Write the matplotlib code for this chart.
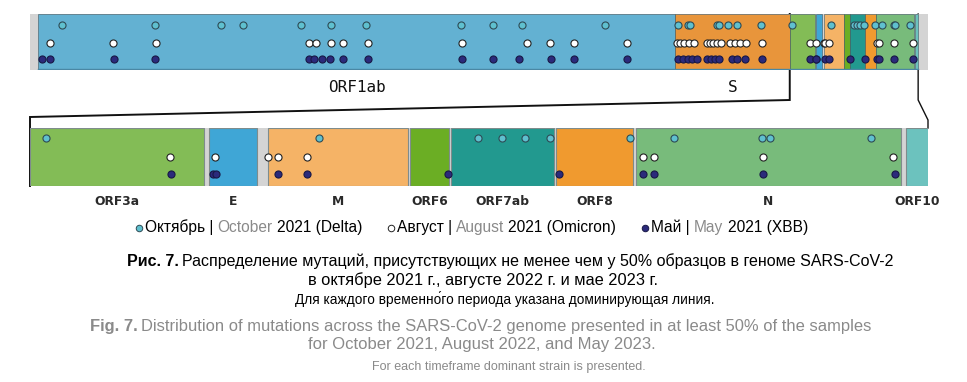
import matplotlib
matplotlib.use("Agg")
import matplotlib.pyplot as plt
from matplotlib.patches import Rectangle

# genome annotation (nt coordinates)
genes = ['ORF1ab', 'S', 'ORF3a', 'E', 'M', 'ORF6', 'ORF7ab', 'ORF8', 'N', 'ORF10']
gene_start = [266, 21563, 25393, 26245, 26523, 27202, 27394, 27894, 28274, 29558]
gene_end = [21555, 25384, 26220, 26472, 27191, 27387, 27887, 28259, 29533, 29674]
gene_color = ['#63b1d2', '#e8953b', '#83bc56', '#3fa6d6', '#f5b366', '#6bae24',
              '#22998f', '#f09a2f', '#78bb7b', '#6cc2be']
genome_len = 30003

# mutation positions per timeframe
oct_pos = [1069, 4176, 6382, 7117, 9054, 10057, 11226, 14400, 15470, 16438, 19212,
           21651, 21985, 22052, 22954, 23020, 23321, 23622, 24424,
           25469, 26767, 27523, 27637, 27747, 27866, 28246, 28455, 28874, 28911, 29392]
aug_pos = [668, 2773, 4210, 9322, 9556, 10057, 10458, 11293, 14434, 16605, 17374, 18176, 19947,
           21617, 21717, 21851, 22018, 22185, 22620, 22720, 22820, 22954, 23087, 23388,
           23555, 23722, 23923, 24457,
           26059, 26273, 26525, 26572, 26710, 28308, 28360, 28879, 29497]
may_pos = [401, 668, 2807, 4176, 9322, 9489, 9756, 10023, 10458, 11293, 14434, 15470, 16338,
           17407, 18176, 19947,
           21651, 21818, 21985, 22119, 22285, 22620, 22754, 22887, 23020, 23455, 23622, 23889, 24457,
           26063, 26263, 26277, 26572, 26710, 27381, 27908, 28308, 28360, 28879, 29506]

zoom_from, zoom_to = 25393, 29663

series = [
    (oct_pos, '#5fc0cf', '#2e4b55', 0.80),
    (aug_pos, 'white', '#222222', 0.48),
    (may_pos, '#2b2a7b', '#181845', 0.19),
]

W, H = 967, 382
fig = plt.figure(figsize=(W / 100, H / 100), dpi=100)
fig.patch.set_facecolor('white')


def px_axes(x0, y0, x1, y1):
    return fig.add_axes([x0 / W, 1 - y1 / H, (x1 - x0) / W, (y1 - y0) / H])


ov = fig.add_axes([0, 0, 1, 1])
ov.set_xlim(0, W)
ov.set_ylim(H, 0)
ov.axis('off')

ax_top = px_axes(30, 14, 928, 70)
ax_bot = px_axes(30, 128, 928, 186)

for ax, lo, hi in [(ax_top, 0, genome_len), (ax_bot, zoom_from, zoom_to)]:
    ax.set_xlim(lo, hi)
    ax.set_ylim(0, 1)
    ax.axis('off')
    ax.add_patch(Rectangle((lo, 0), hi - lo, 1, facecolor='#d4d4d4', edgecolor='none', zorder=0))

# top bar genes
for g, s, e, c in zip(genes, gene_start, gene_end, gene_color):
    ax_top.add_patch(Rectangle((s, 0), e - s, 1, facecolor=c, edgecolor='#3d5660',
                               lw=0.4, zorder=1))
ax_top.plot([gene_start[0], gene_end[-1]], [0.01, 0.01], color='#4a87a4', lw=1, zorder=2)

# bottom zoomed genes
for g, s, e, c in zip(genes, gene_start, gene_end, gene_color):
    if e < zoom_from:
        continue
    ax_bot.add_patch(Rectangle((s, 0), e - s, 1, facecolor=c, edgecolor='#7f8c8c',
                               lw=0.8, zorder=1))
    mid = (max(s, zoom_from) + min(e, zoom_to)) / 2
    ax_bot.annotate(g, (mid, -0.26), xycoords=('data', 'axes fraction'), ha='center',
                    va='center', fontsize=8.8, fontweight='bold', color='#2a2a2a',
                    annotation_clip=False)

for g, s, e in zip(genes[:2], gene_start[:2], gene_end[:2]):
    ax_top.annotate(g, ((s + e) / 2, -0.31), xycoords=('data', 'axes fraction'),
                    ha='center', va='center', fontsize=11.5, family='DejaVu Sans Mono',
                    color='#111111', annotation_clip=False)

for pos, fc, ec, yy in series:
    ax_top.scatter(pos, [yy] * len(pos), s=26, facecolor=fc, edgecolor=ec, lw=0.8,
                   zorder=3, clip_on=False)
    sub = [p for p in pos if zoom_from <= p <= zoom_to]
    ax_bot.scatter(sub, [yy + 0.02] * len(sub), s=26, facecolor=fc, edgecolor=ec, lw=0.8,
                   zorder=3, clip_on=False)


def to_ov(ax, x, y):
    d = ax.transData.transform((x, y))
    return ov.transData.inverted().transform(d)


# zoom connectors
p1 = to_ov(ax_top, gene_end[1], 1)
p2 = to_ov(ax_top, gene_end[1], 0)
b1 = to_ov(ax_bot, zoom_from, 1)
b0 = to_ov(ax_bot, zoom_from, 0)
ov.plot([p1[0], p1[0], b1[0], b1[0]], [p1[1], p2[1] + 30, p2[1] + 47, b0[1]],
        color='#111111', lw=1.4, solid_joinstyle='miter')
q1 = to_ov(ax_top, gene_end[-1], 1)
q2 = to_ov(ax_top, gene_end[-1], 0)
r1 = to_ov(ax_bot, zoom_to, 1)
ov.plot([q1[0], q1[0], r1[0], r1[0]], [q1[1], q2[1] + 30, r1[1] - 8, r1[1]],
        color='#111111', lw=1.0)

renderer = fig.canvas.get_renderer()
FONT = ['Liberation Sans', 'DejaVu Sans']
GRAY = '#8a8a8a'


def width(s, size, weight='normal'):
    t = ov.text(0, 0, s, fontsize=size, fontweight=weight, family=FONT)
    w = t.get_window_extent(renderer).width
    t.remove()
    return w


def draw_runs(x0, y, runs, size):
    # each piece placed where it would sit inside the whole line
    prefix = ''
    for s, w, c in runs:
        body = s.lstrip(' ')
        prefix += s[:len(s) - len(body)]
        first = body[0]
        off = 0.0 if not prefix else width(prefix + first, size, w) - width(first, size, w)
        ov.text(x0 + off, y, body, fontsize=size, fontweight=w, color=c, family=FONT,
                ha='left', va='baseline')
        prefix += body
    return x0 + width(prefix, size)


def run_line(y, runs, size, xc=483.5):
    total = width(''.join(s for s, w, c in runs), size)
    draw_runs(xc - total / 2, y, runs, size)


# legend
legend = [
    (series[0], [('Октябрь | ', 'normal', 'black'), ('October', 'normal', GRAY),
                 (' 2021 (Delta)', 'normal', 'black')]),
    (series[1], [('Август | ', 'normal', 'black'), ('August', 'normal', GRAY),
                 (' 2021 (Omicron)', 'normal', 'black')]),
    (series[2], [('Май | ', 'normal', 'black'), ('May', 'normal', GRAY),
                 (' 2021 (XBB)', 'normal', 'black')]),
]
leg_size = 11.2
dot_w, gap = 9, 26
total = 0
for _, runs in legend:
    total += dot_w + width(''.join(s for s, w, c in runs), leg_size)
total += gap * (len(legend) - 1)
x = 472 - total / 2
y_leg = 232
for (pos, fc, ec, yy), runs in legend:
    ov.scatter([x + 3], [y_leg - 4], s=22, facecolor=fc, edgecolor=ec, lw=0.7)
    x = draw_runs(x + dot_w, y_leg, runs, leg_size) + gap

run_line(266, [('Рис. 7. ', 'bold', 'black'),
               ('Распределение мутаций, присутствующих не менее чем у 50% образцов в геноме SARS-CoV-2',
                'normal', 'black')], 11.5, xc=510)
run_line(285, [('в октябре 2021 г., августе 2022 г. и мае 2023 г.', 'normal', 'black')], 11.8)
run_line(304, [('Для каждого временно\u0301го периода указана доминирующая линия.', 'normal', 'black')],
         9.8, xc=505)
run_line(331, [('Fig. 7. ', 'bold', GRAY),
               ('Distribution of mutations across the SARS-CoV-2 genome presented in at least 50% of the samples',
                'normal', GRAY)], 11.9, xc=481)
run_line(349, [('for October 2021, August 2022, and May 2023.', 'normal', GRAY)], 12.0, xc=482)
run_line(370, [('For each timeframe dominant strain is presented.', 'normal', GRAY)], 9.0, xc=509)

fig.savefig('out.png', dpi=100)
